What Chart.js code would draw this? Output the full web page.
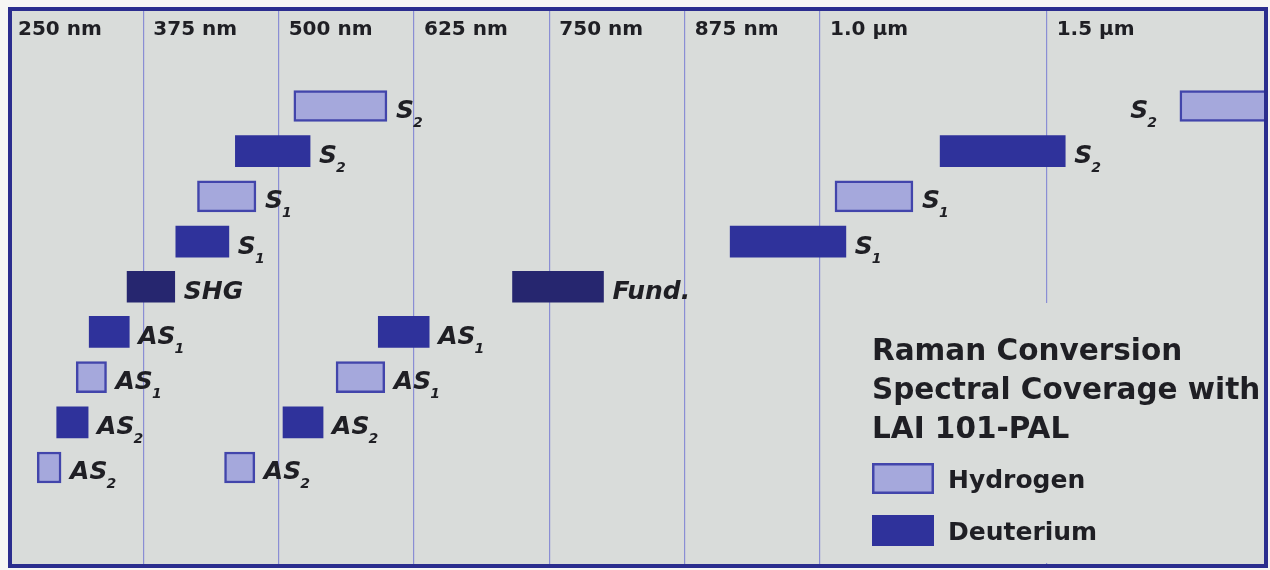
<!DOCTYPE html>
<html>
<head>
<meta charset="utf-8">
<script src="https://cdn.jsdelivr.net/npm/chart.js@4/dist/chart.umd.min.js"></script>
<style>
  html, body { margin: 0; background: #f6f6f4; }
  canvas { display: block; }
</style>
</head>
<body>
<canvas id="raman" width="1270" height="570"></canvas>
<script>
// wavelength ticks along the top (nm)
const tickNm = [250, 375, 500, 625, 750, 875, 1000, 1500];
const tickLabels = ['250 nm', '375 nm', '500 nm', '625 nm', '750 nm', '875 nm', '1.0 µm', '1.5 µm'];

// rows counted from the top, ranges in nm
const hydrogenRows = [1, 1, 3, 3, 7, 7, 9, 9];
const hydrogenRanges = [[514, 600], [1794, 2100], [425, 479], [1033, 1205], [313, 341], [553, 598], [277, 299], [450, 478]];
const hydrogenLines = ['S2', 'S2', 'S1', 'S1', 'AS1', 'AS1', 'AS2', 'AS2'];

const deuteriumRows = [2, 2, 4, 4, 6, 6, 8, 8];
const deuteriumRanges = [[460, 529], [1265, 1541], [405, 454], [917, 1057], [325, 362], [592, 639], [295, 324], [504, 541]];
const deuteriumLines = ['S2', 'S2', 'S1', 'S1', 'AS1', 'AS1', 'AS2', 'AS2'];

const pumpRows = [5, 5];
const pumpRanges = [[360, 404], [716, 800]];
const pumpLines = ['SHG', 'Fund.'];

const legendTitle = ['Raman Conversion', 'Spectral Coverage with', 'LAI 101-PAL'];

const bgColor = '#d9dcda';
const gridColor = '#8a8ed4';
const frameColor = '#2b2d8e';
const textColor = '#1f1f24';

// axis is linear up to 1 µm, then squeezed for the IR part
const irSqueeze = 0.4186;
const toAxis = nm => nm <= 1000 ? nm : 1000 + (nm - 1000) * irSqueeze;

const toPoints = (rows, ranges) => ranges.map((r, i) => ({ x: [toAxis(r[0]), toAxis(r[1])], y: rows[i] }));

const frame = { left: 10, top: 9, right: 1266, bottom: 566 };

const backdrop = {
  id: 'backdrop',
  beforeDraw(chart) {
    const ctx = chart.ctx;
    ctx.save();
    ctx.fillStyle = bgColor;
    ctx.fillRect(frame.left, frame.top, frame.right - frame.left, frame.bottom - frame.top);
    ctx.restore();
  },
  beforeDatasetsDraw(chart) {
    // legend box sits over the lower part of the 1.5 µm line
    const ctx = chart.ctx;
    ctx.save();
    ctx.fillStyle = bgColor;
    ctx.fillRect(845, 303, 416, 260);
    ctx.restore();
  },
  afterDraw(chart) {
    const ctx = chart.ctx;
    ctx.save();
    ctx.strokeStyle = frameColor;
    ctx.lineWidth = 4;
    ctx.strokeRect(frame.left, frame.top, frame.right - frame.left, frame.bottom - frame.top);
    ctx.restore();
  }
};

const barLabels = {
  id: 'barLabels',
  afterDatasetsDraw(chart) {
    const ctx = chart.ctx;
    ctx.save();
    ctx.fillStyle = textColor;
    ctx.textBaseline = 'alphabetic';
    chart.data.datasets.forEach((ds, di) => {
      chart.getDatasetMeta(di).data.forEach((bar, i) => {
        const m = ds.lines[i].match(/^(.*?)(\d?)$/);
        ctx.font = 'italic bold 25px "DejaVu Sans"';
        const wMain = ctx.measureText(m[1]).width;
        ctx.font = 'italic bold 14px "DejaVu Sans"';
        const wSub = m[2] ? ctx.measureText(m[2]).width : 0;
        let x = bar.x + 9;
        if (bar.x > chart.chartArea.right) x = bar.base - 22 - wMain - wSub;
        ctx.font = 'italic bold 25px "DejaVu Sans"';
        ctx.fillText(m[1], x, bar.y + 12);
        if (m[2]) {
          ctx.font = 'italic bold 14px "DejaVu Sans"';
          ctx.fillText(m[2], x + wMain - 1, bar.y + 21);
        }
      });
    });
    ctx.restore();
  }
};

const boxLegend = {
  id: 'boxLegend',
  afterDatasetsDraw(chart) {
    const ctx = chart.ctx;
    ctx.save();
    ctx.fillStyle = textColor;
    ctx.font = 'bold 29.5px "DejaVu Sans"';
    legendTitle.forEach((t, i) => ctx.fillText(t, 872, 360 + i * 39));
    const items = chart.data.datasets.filter(d => d.inLegend);
    items.forEach((d, i) => {
      const y = 463 + i * 52;
      ctx.fillStyle = d.backgroundColor;
      ctx.fillRect(872, y, 62, 31);
      if (d.borderWidth) {
        ctx.strokeStyle = d.borderColor;
        ctx.lineWidth = d.borderWidth;
        ctx.strokeRect(872 + d.borderWidth / 2, y + d.borderWidth / 2, 62 - d.borderWidth, 31 - d.borderWidth);
      }
      ctx.fillStyle = textColor;
      ctx.font = 'bold 25px "DejaVu Sans"';
      ctx.fillText(d.label, 948, y + 25);
    });
    ctx.restore();
  }
};

new Chart(document.getElementById('raman'), {
  type: 'bar',
  data: {
    datasets: [
      {
        label: 'Hydrogen',
        inLegend: true,
        lines: hydrogenLines,
        data: toPoints(hydrogenRows, hydrogenRanges),
        backgroundColor: '#a5a8dc',
        borderColor: '#4245ab',
        borderWidth: 2.5,
        borderSkipped: false
      },
      {
        label: 'Deuterium',
        inLegend: true,
        lines: deuteriumLines,
        data: toPoints(deuteriumRows, deuteriumRanges),
        backgroundColor: '#2f329b',
        borderColor: '#2f329b',
        borderWidth: 0,
        borderSkipped: false
      },
      {
        label: 'Pump',
        inLegend: false,
        lines: pumpLines,
        data: toPoints(pumpRows, pumpRanges),
        backgroundColor: '#26266f',
        borderWidth: 0,
        borderSkipped: false
      }
    ]
  },
  options: {
    responsive: false,
    animation: false,
    indexAxis: 'y',
    grouped: false,
    barThickness: 31,
    layout: { padding: { left: 8, right: 4, top: 10, bottom: 4 } },
    plugins: {
      legend: { display: false },
      tooltip: { enabled: false }
    },
    scales: {
      x: {
        type: 'linear',
        position: 'top',
        bounds: 'data',
        min: 250,
        max: 1411.9,
        afterBuildTicks: s => { s.ticks = tickNm.map(v => ({ value: toAxis(v) })); },
        afterFit: s => {
          // labels sit inside the plot, so the axis takes no room
          s.height = 0;
          s.paddingLeft = 0;
          s.paddingRight = 0;
        },
        grid: {
          color: c => c.index === 0 ? 'rgba(0,0,0,0)' : gridColor,
          lineWidth: 1.2,
          drawTicks: false
        },
        border: { display: false },
        ticks: {
          autoSkip: false,
          maxRotation: 0,
          minRotation: 0,
          mirror: true,
          align: 'start',
          labelOffset: 10,
          padding: 8,
          color: textColor,
          font: { family: 'DejaVu Sans', weight: 'bold', size: 20 },
          callback: (v, i) => tickLabels[i]
        }
      },
      y: {
        type: 'linear',
        reverse: true,
        offset: false,
        min: -1.124,
        max: 11.18,
        display: false
      }
    }
  },
  plugins: [backdrop, barLabels, boxLegend]
});
</script>
</body>
</html>
